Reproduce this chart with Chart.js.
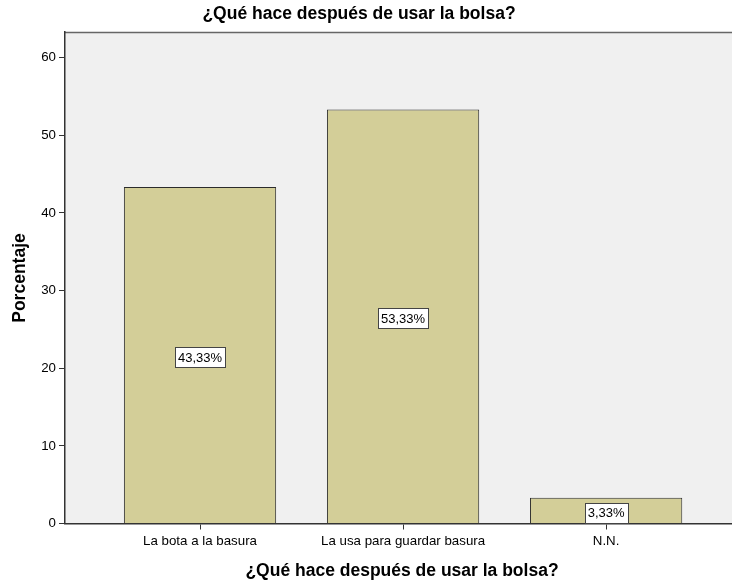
<!DOCTYPE html>
<html>
<head>
<meta charset="utf-8">
<script src="https://cdn.jsdelivr.net/npm/chart.js@4"></script>
<style>
  html, body { margin: 0; padding: 0; background: #fff; }
  #wrap { width: 732px; height: 583px; }
</style>
</head>
<body>
<div id="wrap"><canvas id="barChart" width="732" height="583"></canvas></div>
<script>
const categories = ['La bota a la basura', 'La usa para guardar basura', 'N.N.'];
const percentages = [43.33, 53.33, 3.33];
const yTicks = [0, 10, 20, 30, 40, 50, 60];
const titleText = '¿Qué hace después de usar la bolsa?';
const yTitle = 'Porcentaje';

const FONT = '"Liberation Sans", Arial, sans-serif';

// plot background, frame, titles and value boxes
const spssLook = {
  id: 'spssLook',
  beforeDraw(chart) {
    const { ctx, chartArea: a } = chart;
    ctx.save();
    ctx.fillStyle = '#fff';
    ctx.fillRect(0, 0, chart.width, chart.height);
    ctx.fillStyle = '#f0f0f0';
    ctx.fillRect(a.left, a.top, a.right - a.left, a.bottom - a.top);
    ctx.strokeStyle = '#666';
    ctx.lineWidth = 1.5;
    ctx.beginPath();
    ctx.moveTo(a.left, a.top + 0.5);
    ctx.lineTo(a.right, a.top + 0.5);
    ctx.stroke();
    ctx.restore();
  },
  afterDraw(chart) {
    const { ctx } = chart;
    ctx.save();
    ctx.fillStyle = '#000';
    ctx.font = 'bold 17.5px ' + FONT;
    ctx.textAlign = 'center';
    ctx.textBaseline = 'middle';
    ctx.fillText(titleText, 359, 14);
    ctx.fillText(titleText, 402, 571);
    ctx.translate(20, 278);
    ctx.rotate(-Math.PI / 2);
    ctx.fillText(yTitle, 0, 0);
    ctx.restore();

    // value boxes in the middle of each bar
    const meta = chart.getDatasetMeta(0);
    const yScale = chart.scales.y;
    ctx.save();
    ctx.font = '13px ' + FONT;
    ctx.textAlign = 'center';
    ctx.textBaseline = 'middle';
    meta.data.forEach((bar, i) => {
      const v = percentages[i];
      const label = v.toFixed(2).replace('.', ',') + '%';
      const cy = yScale.getPixelForValue(v / 2) + 2;
      const w = Math.round(ctx.measureText(label).width + 6);
      const h = 20;
      const bx = Math.round(bar.x - w / 2) + 0.5;
      const by = Math.round(cy - h / 2) + 0.5;
      ctx.fillStyle = '#fff';
      ctx.fillRect(bx, by, w, h);
      ctx.strokeStyle = '#444';
      ctx.lineWidth = 1;
      ctx.strokeRect(bx, by, w, h);
      ctx.fillStyle = '#000';
      ctx.fillText(label, bar.x, cy + 1);
    });
    ctx.restore();
  }
};

new Chart(document.getElementById('barChart'), {
  type: 'bar',
  data: {
    datasets: [{
      data: percentages.map((v, i) => ({ x: i, y: v })),
      backgroundColor: '#d3ce98',
      borderColor: '#2b2b2b',
      borderWidth: 1,
      barPercentage: 0.75,
      categoryPercentage: 1
    }]
  },
  options: {
    responsive: false,
    animation: false,
    layout: { padding: { top: 32, left: 0, right: 0, bottom: 0 } },
    plugins: { legend: { display: false }, tooltip: { enabled: false } },
    scales: {
      x: {
        type: 'linear',
        offset: false,
        min: -0.665,
        max: 2.62,
        afterBuildTicks(scale) { scale.ticks = [0, 1, 2].map(v => ({ value: v })); },
        afterFit(scale) { scale.height = 59.5; },
        grid: { offset: false, drawOnChartArea: false, drawTicks: true, tickLength: 6, color: '#333' },
        border: { color: '#333', width: 1.5 },
        ticks: {
          color: '#000',
          padding: 4,
          font: { family: FONT, size: 13.3 },
          maxRotation: 0,
          autoSkip: false,
          callback: v => categories[v]
        }
      },
      y: {
        min: 0,
        max: 63.3,
        afterBuildTicks(scale) { scale.ticks = yTicks.map(v => ({ value: v })); },
        afterFit(scale) { scale.width = 65; },
        grid: { drawOnChartArea: false, drawTicks: true, tickLength: 6, color: '#333' },
        border: { color: '#333', width: 1.5 },
        ticks: {
          color: '#000',
          padding: 3,
          font: { family: FONT, size: 13.3 }
        }
      }
    }
  },
  plugins: [spssLook]
});
</script>
</body>
</html>
